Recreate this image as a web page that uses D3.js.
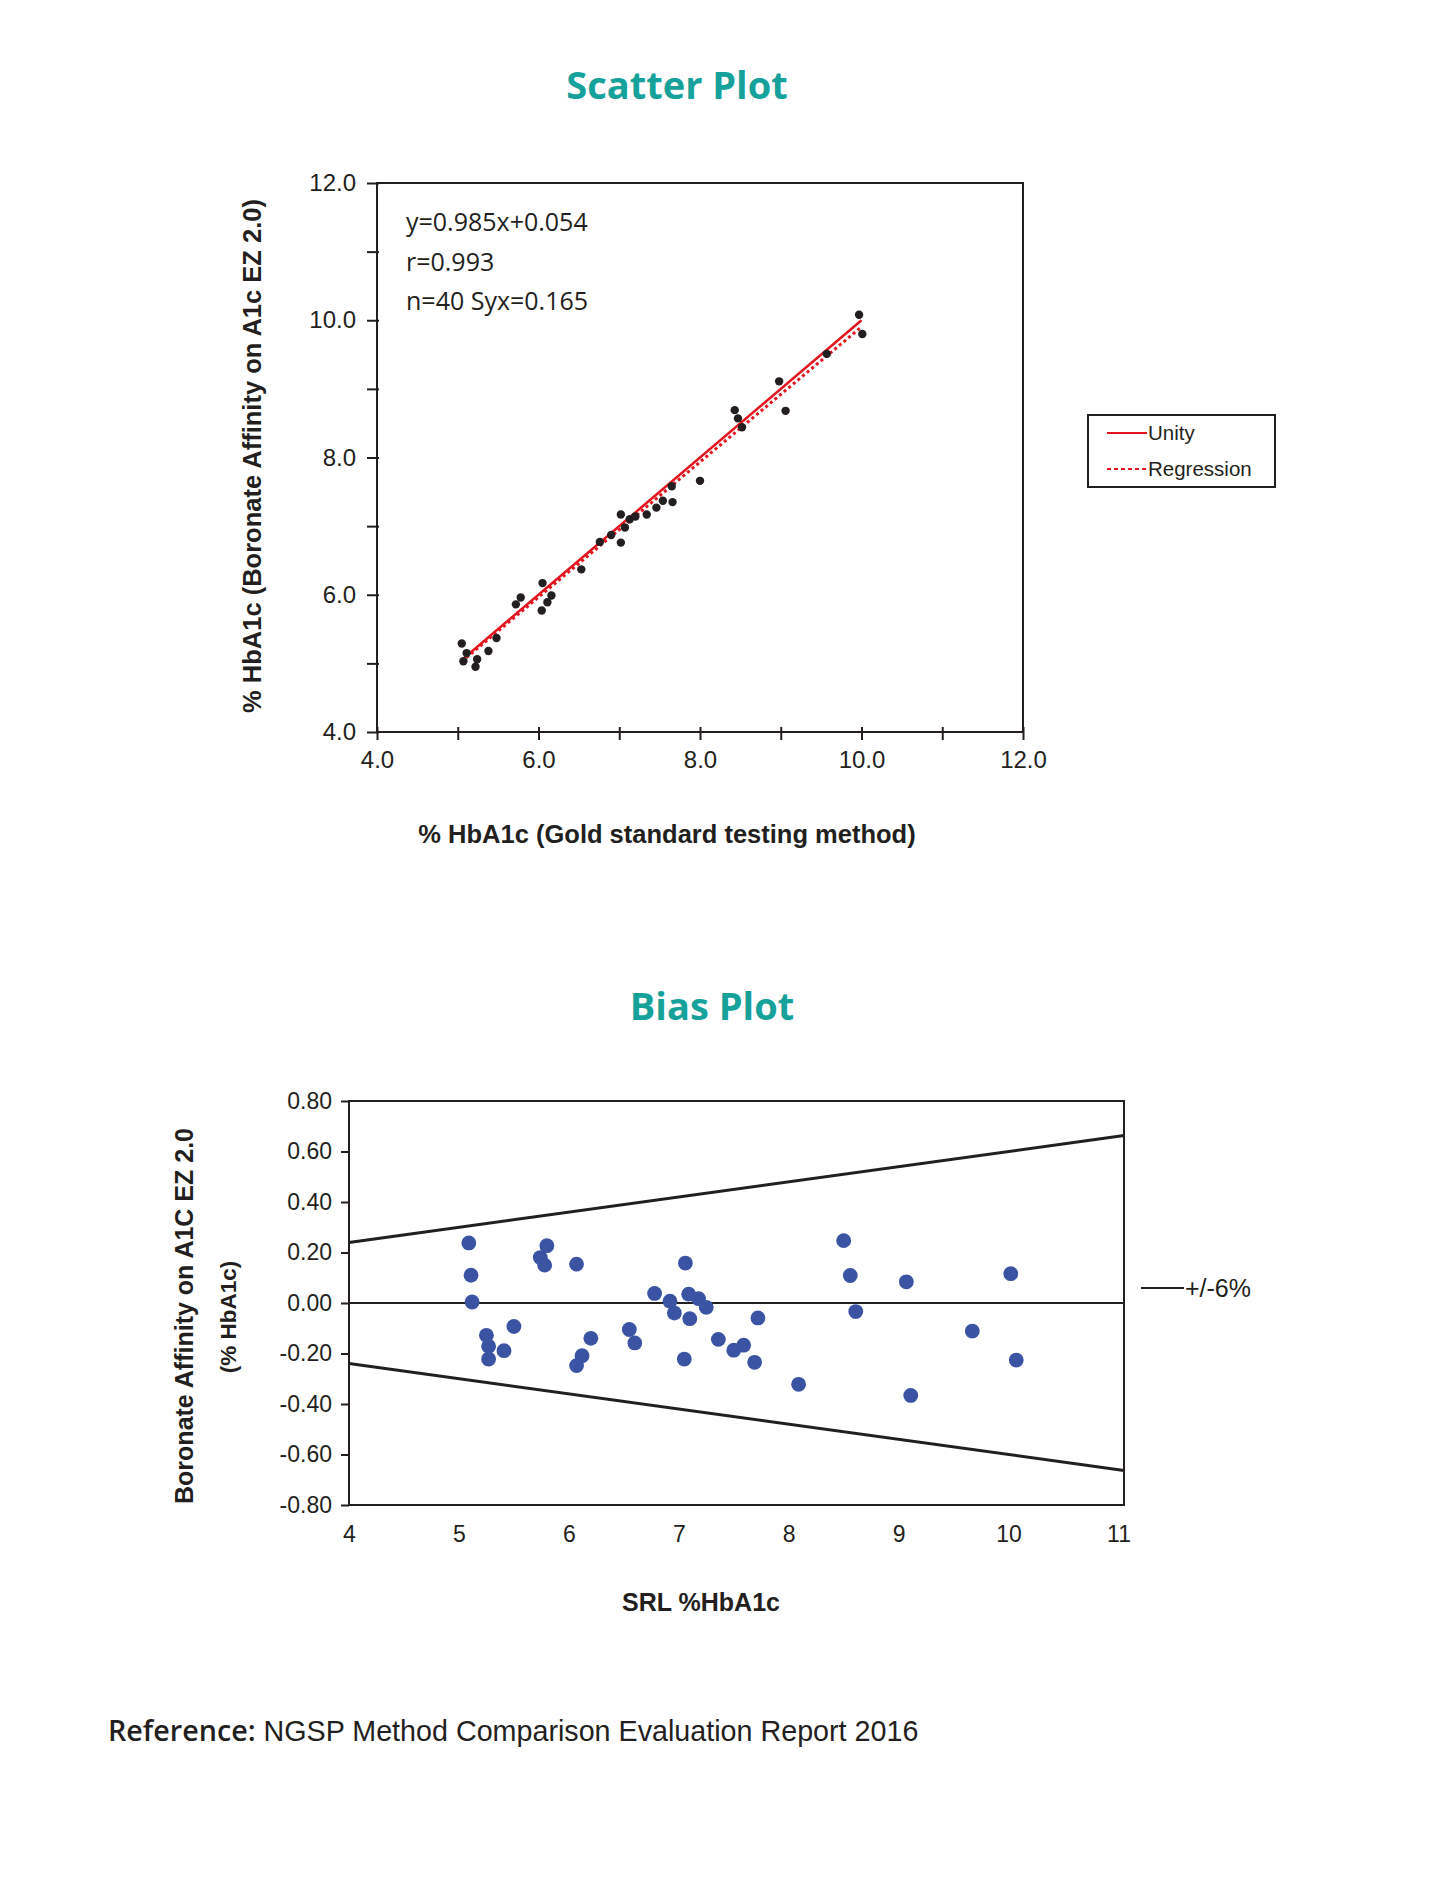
<!DOCTYPE html>
<html>
<head>
<meta charset="utf-8">
<script src="https://cdn.jsdelivr.net/npm/d3@7"></script>
<style>
  body { margin: 0; background: #fff; }
  text { fill: #231f20; }
</style>
</head>
<body>
<div id="chart"></div>
<script>
// scatter plot values (gold standard vs boronate affinity)
var scatterX = [5.05, 5.11, 5.07, 5.24, 5.22, 5.38, 5.48, 5.72, 5.78, 6.05, 6.16, 6.11, 6.04, 6.53,
    6.76, 6.90, 7.02, 7.02, 7.07, 7.13, 7.20, 7.34, 7.46, 7.54, 7.65, 7.66, 8.00, 8.43, 8.47, 8.52,
    8.98, 9.06, 9.57, 9.97, 10.01];
var scatterY = [5.29, 5.15, 5.03, 5.06, 4.95, 5.18, 5.37, 5.86, 5.96, 6.17, 5.99, 5.89, 5.77, 6.37,
    6.77, 6.87, 7.17, 6.76, 6.98, 7.10, 7.14, 7.17, 7.27, 7.37, 7.58, 7.35, 7.66, 8.69, 8.57, 8.44,
    9.11, 8.68, 9.51, 10.08, 9.80];

// bias plot values
var biasX = [5.09, 5.11, 5.12, 5.25, 5.27, 5.27, 5.41, 5.50, 5.74, 5.78, 5.80, 6.07, 6.07, 6.12,
    6.20, 6.55, 6.60, 6.78, 6.92, 6.96, 7.06, 7.05, 7.09, 7.10, 7.18, 7.25, 7.36, 7.50, 7.59, 7.69,
    7.72, 8.09, 8.50, 8.56, 8.61, 9.07, 9.11, 9.67, 10.02, 10.07];
var biasY = [0.238, 0.110, 0.004, -0.128, -0.171, -0.222, -0.189, -0.093, 0.180, 0.150, 0.227,
    0.154, -0.248, -0.209, -0.140, -0.105, -0.158, 0.038, 0.007, -0.040, 0.158, -0.222, 0.035,
    -0.062, 0.017, -0.017, -0.144, -0.187, -0.167, -0.235, -0.059, -0.322, 0.247, 0.109, -0.034,
    0.084, -0.366, -0.111, 0.116, -0.226];

// regression / lines
var fitText = ["y=0.985x+0.054", "r=0.993", "n=40 Syx=0.165"];
var regSlope = 0.985;
var regIntercept = 0.054;
var lineExtent = [5.05, 10.0];
var limitPct = 0.06;

// ticks
var scatterTicks = [4, 5, 6, 7, 8, 9, 10, 11, 12];
var biasXTicks = [4, 5, 6, 7, 8, 9, 10, 11];
var biasYTicks = [0.8, 0.6, 0.4, 0.2, 0, -0.2, -0.4, -0.6, -0.8];

var ink = "#231f20";
var red = "#e3141d";
var teal = "#17a19b";
var blue = "#3a54a3";
var tickFont = "'Liberation Sans', Arial, sans-serif";

var svg = d3.select("#chart")
    .append("svg")
    .attr("width", 1440)
    .attr("height", 1887);

svg.append("rect").attr("width", 1440).attr("height", 1887).attr("fill", "#fff");

// ---------- scatter plot ----------
var sx = d3.scaleLinear().domain([4, 12]).range([377, 1023]);
var sy = d3.scaleLinear().domain([4, 12]).range([732, 183]);

svg.append("text")
    .attr("x", 677)
    .attr("y", 99)
    .attr("text-anchor", "middle")
    .style("font-family", "'Open Sans', sans-serif")
    .style("font-weight", 700)
    .style("font-size", "38px")
    .style("fill", teal)
    .text("Scatter Plot");

var scatter = svg.append("g");

scatter.append("rect")
    .attr("x", sx(4))
    .attr("y", sy(12))
    .attr("width", sx(12) - sx(4))
    .attr("height", sy(4) - sy(12))
    .attr("fill", "none")
    .attr("stroke", ink)
    .attr("stroke-width", 2);

var sLeft = scatter.append("g")
    .attr("transform", `translate(${sx(4)},0)`)
    .call(d3.axisLeft(sy).tickValues(scatterTicks)
        .tickFormat(d => d % 2 === 0 ? d.toFixed(1) : "")
        .tickSize(10).tickPadding(11));

var sBottom = scatter.append("g")
    .attr("transform", `translate(0,${sy(4)})`)
    .call(d3.axisBottom(sx).tickValues(scatterTicks)
        .tickFormat(d => d % 2 === 0 ? d.toFixed(1) : "")
        .tickSize(8).tickPadding(11));

sLeft.select(".domain").remove();
sBottom.select(".domain").remove();
sLeft.selectAll(".tick line").attr("x2", -10).attr("x1", 2);
sBottom.selectAll(".tick line").attr("y1", -5).attr("y2", 8);

[sLeft, sBottom].forEach(function(a) {
    a.selectAll(".tick line").attr("stroke", ink).attr("stroke-width", 2);
    a.selectAll(".tick text")
        .style("font-family", tickFont)
        .style("font-size", "24px")
        .style("fill", ink);
});

// fit statistics
scatter.selectAll(".fit")
    .data(fitText)
    .enter()
    .append("text")
    .attr("class", "fit")
    .attr("x", 406)
    .attr("y", (d, i) => 231 + i * 39.5)
    .style("font-family", "'Open Sans', sans-serif")
    .style("font-size", "25px")
    .text(d => d);

// regression (dotted) then unity (solid)
var sLine = d3.line().x(d => sx(d[0])).y(d => sy(d[1]));

scatter.append("path")
    .datum(lineExtent.map(v => [v, regSlope * v + regIntercept]))
    .attr("d", sLine)
    .attr("fill", "none")
    .attr("stroke", red)
    .attr("stroke-width", 3)
    .attr("stroke-dasharray", "3,3");

scatter.append("path")
    .datum(lineExtent.map(v => [v, v]))
    .attr("d", sLine)
    .attr("fill", "none")
    .attr("stroke", red)
    .attr("stroke-width", 2.5);

scatter.selectAll("circle")
    .data(scatterX)
    .enter()
    .append("circle")
    .attr("cx", d => sx(d))
    .attr("cy", (d, i) => sy(scatterY[i]))
    .attr("r", 4.2)
    .attr("fill", ink);

// axis titles
svg.append("text")
    .attr("x", 667)
    .attr("y", 843)
    .attr("text-anchor", "middle")
    .style("font-family", tickFont)
    .style("font-weight", 700)
    .style("font-size", "25.5px")
    .text("% HbA1c (Gold standard testing method)");

svg.append("text")
    .attr("transform", "translate(261,456) rotate(-90)")
    .attr("text-anchor", "middle")
    .style("font-family", tickFont)
    .style("font-weight", 700)
    .style("font-size", "25.5px")
    .text("% HbA1c (Boronate Affinity on A1c EZ 2.0)");

// legend
var legend = svg.append("g");
legend.append("rect")
    .attr("x", 1088).attr("y", 415)
    .attr("width", 187).attr("height", 72)
    .attr("fill", "none")
    .attr("stroke", ink)
    .attr("stroke-width", 2);

var legendItems = [{ name: "Unity", dash: null }, { name: "Regression", dash: "4,3" }];
legendItems.forEach(function(item, i) {
    var ly = 433 + i * 36;
    legend.append("line")
        .attr("x1", 1107).attr("x2", 1147)
        .attr("y1", ly).attr("y2", ly)
        .attr("stroke", red)
        .attr("stroke-width", 2)
        .attr("stroke-dasharray", item.dash);
    legend.append("text")
        .attr("x", 1148)
        .attr("y", ly + 7)
        .style("font-family", tickFont)
        .style("font-size", "20.5px")
        .text(item.name);
});

// ---------- bias plot ----------
var bx = d3.scaleLinear().domain([4, 11.05]).range([349, 1124]);
var by = d3.scaleLinear().domain([-0.8, 0.8]).range([1505, 1101]);

svg.append("text")
    .attr("x", 712)
    .attr("y", 1020)
    .attr("text-anchor", "middle")
    .style("font-family", "'Open Sans', sans-serif")
    .style("font-weight", 700)
    .style("font-size", "38px")
    .style("fill", teal)
    .text("Bias Plot");

var bias = svg.append("g");

bias.append("rect")
    .attr("x", bx(4))
    .attr("y", by(0.8))
    .attr("width", bx(11.05) - bx(4))
    .attr("height", by(-0.8) - by(0.8))
    .attr("fill", "none")
    .attr("stroke", ink)
    .attr("stroke-width", 2);

var bLeft = bias.append("g")
    .attr("transform", `translate(${bx(4)},0)`)
    .call(d3.axisLeft(by).tickValues(biasYTicks)
        .tickFormat(d3.format(".2f"))
        .tickSize(8).tickPadding(9));

var bBottom = bias.append("g")
    .attr("transform", `translate(0,${by(-0.8)})`)
    .call(d3.axisBottom(bx).tickValues(biasXTicks)
        .tickFormat(d3.format("d"))
        .tickSize(0).tickPadding(21));

bLeft.select(".domain").remove();
bBottom.select(".domain").remove();

[bLeft, bBottom].forEach(function(a) {
    a.selectAll(".tick line").attr("stroke", ink).attr("stroke-width", 2);
    a.selectAll(".tick text")
        .style("font-family", tickFont)
        .style("font-size", "23px")
        .style("fill", ink);
});
// minus signs drawn as hyphens like the original
bLeft.selectAll(".tick text").text(d => d3.format(".2f")(d).replace("−", "-"));

var bLine = d3.line().x(d => bx(d[0])).y(d => by(d[1]));
var limitEnds = bx.domain();

bias.append("path")
    .datum(limitEnds.map(v => [v, 0]))
    .attr("d", bLine)
    .attr("stroke", ink)
    .attr("stroke-width", 2);

[1, -1].forEach(function(sign) {
    bias.append("path")
        .datum(limitEnds.map(v => [v, sign * limitPct * v]))
        .attr("d", bLine)
        .attr("stroke", ink)
        .attr("stroke-width", 3);
});

bias.selectAll("circle")
    .data(biasX)
    .enter()
    .append("circle")
    .attr("cx", d => bx(d))
    .attr("cy", (d, i) => by(biasY[i]))
    .attr("r", 7.4)
    .attr("fill", blue);

// bias legend
svg.append("line")
    .attr("x1", 1141).attr("x2", 1184)
    .attr("y1", 1288).attr("y2", 1288)
    .attr("stroke", ink)
    .attr("stroke-width", 2);

svg.append("text")
    .attr("x", 1185)
    .attr("y", 1297)
    .style("font-family", tickFont)
    .style("font-size", "25px")
    .text("+/-6%");

// bias axis titles
svg.append("text")
    .attr("x", 701)
    .attr("y", 1611)
    .attr("text-anchor", "middle")
    .style("font-family", tickFont)
    .style("font-weight", 700)
    .style("font-size", "25px")
    .text("SRL %HbA1c");

svg.append("text")
    .attr("transform", "translate(193,1316) rotate(-90)")
    .attr("text-anchor", "middle")
    .style("font-family", tickFont)
    .style("font-weight", 700)
    .style("font-size", "25px")
    .text("Boronate Affinity on A1C EZ 2.0");

svg.append("text")
    .attr("transform", "translate(236,1317) rotate(-90)")
    .attr("text-anchor", "middle")
    .style("font-family", tickFont)
    .style("font-weight", 700)
    .style("font-size", "22.5px")
    .text("(% HbA1c)");

// reference line
var ref = svg.append("text")
    .attr("x", 108)
    .attr("y", 1741)
    .style("font-size", "28.7px");

ref.append("tspan")
    .style("font-family", "'Open Sans', sans-serif")
    .style("font-weight", 600)
    .text("Reference:");

ref.append("tspan")
    .style("font-family", tickFont)
    .text(" NGSP Method Comparison Evaluation Report 2016");
</script>
</body>
</html>
